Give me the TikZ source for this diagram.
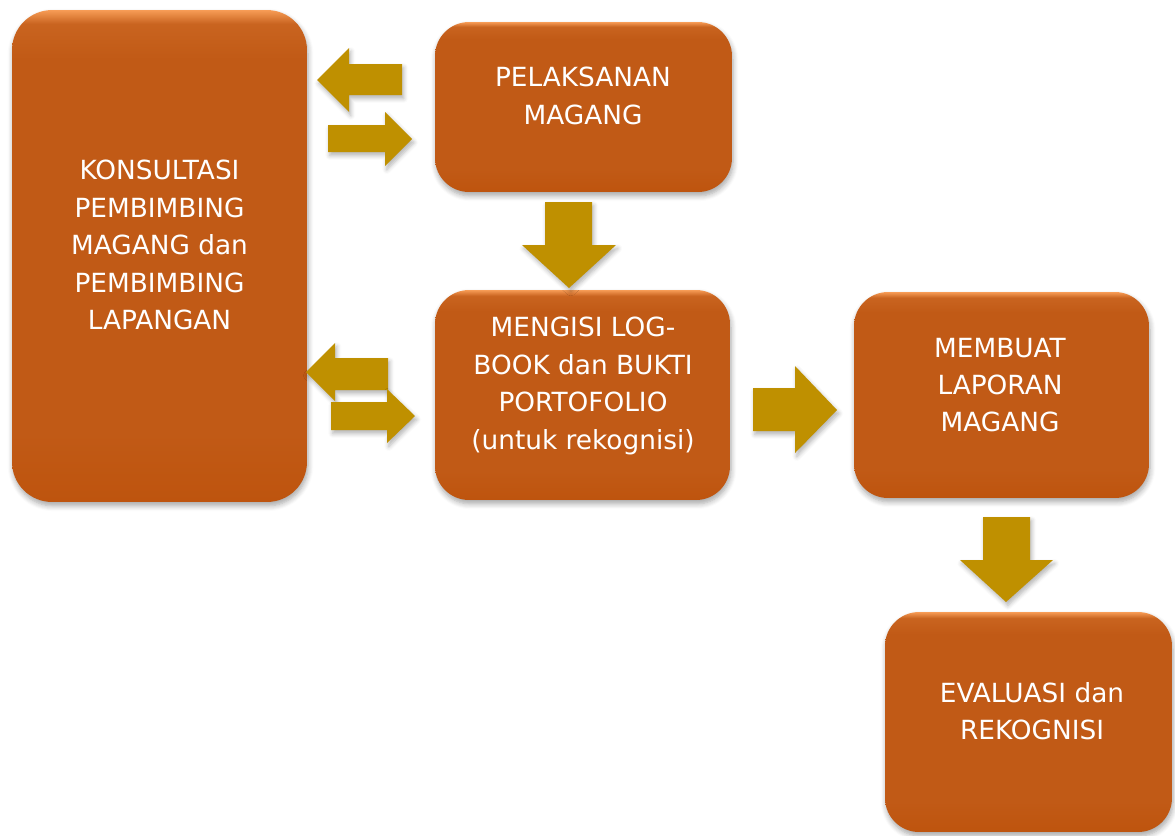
\documentclass[tikz,border=0pt]{standalone}
\usepackage{fontspec}
\setmainfont{DejaVu Sans}
\usetikzlibrary{shadows.blur}
\definecolor{boxbase}{RGB}{193,90,22}
\definecolor{boxdark}{RGB}{190,84,14}
\definecolor{boxlight}{RGB}{247,156,86}
\definecolor{arrowgold}{RGB}{191,144,0}
\pgfdeclareverticalshading{boxshade}{100bp}{color(0bp)=(boxdark); color(25bp)=(boxdark); color(32bp)=(boxbase); color(70bp)=(boxbase); color(73.6bp)=(boxbase!85!boxlight); color(75bp)=(boxlight); color(100bp)=(boxlight)}
\tikzset{
  box/.style={rounded corners=0.68cm, shading=boxshade, draw=none, inner sep=0pt,
    blur shadow={shadow xshift=0.6pt, shadow yshift=-2.2pt, shadow blur steps=6, shadow blur radius=3pt, shadow opacity=35}},
  txt/.style={text=white, align=center, font=\fontsize{15pt}{21.3pt}\selectfont, inner sep=0pt},
  blockarrow/.style={fill=arrowgold, draw=none,
    blur shadow={shadow xshift=1pt, shadow yshift=-2pt, shadow blur steps=5, shadow blur radius=2.5pt, shadow opacity=30}}
}
\begin{document}
\begin{tikzpicture}[x=0.02cm, y=-0.02cm]
\useasboundingbox (0,0) rectangle (1175,835);
% boxes
\node[box, minimum width=5.9cm, minimum height=9.84cm, rounded corners=0.8cm] (k) at (159.5,256) {};
\node[box, minimum width=5.94cm, minimum height=3.4cm] (p) at (583.5,107) {};
\node[box, minimum width=5.9cm, minimum height=4.2cm] (m) at (582.5,395) {};
\node[box, minimum width=5.9cm, minimum height=4.12cm] (l) at (1001.5,395) {};
\node[box, minimum width=5.74cm, minimum height=4.4cm] (e) at (1028.5,722) {};
% texts
\node[txt] (kt) at (159.5,245) {KONSULTASI\\PEMBIMBING\\MAGANG dan\\PEMBIMBING\\LAPANGAN};
\node[txt] (pt) at (583,96) {PELAKSANAN\\MAGANG};
\node[txt] (mt) at (583,386) {MENGISI LOG-\\BOOK dan BUKTI\\PORTOFOLIO\\(untuk rekognisi)};
\node[txt] (lt) at (1000,385) {MEMBUAT\\LAPORAN\\MAGANG};
\node[txt] (et) at (1032,711) {EVALUASI dan\\REKOGNISI};
% block arrows
\path[blockarrow] (317,80) -- (349,48) -- (349,64) -- (402,64) -- (402,95) -- (349,95) -- (349,112) -- cycle;
\path[blockarrow] (328,125) -- (385,125) -- (385,112) -- (412,139) -- (385,166) -- (385,152) -- (328,152) -- cycle;
\path[blockarrow] (306,372) -- (335,343) -- (335,358) -- (388,358) -- (388,390) -- (335,390) -- (335,401) -- cycle;
\path[blockarrow] (331,402) -- (387,402) -- (387,389) -- (415,416) -- (387,443) -- (387,430) -- (331,430) -- cycle;
\path[blockarrow] (753,388) -- (795,388) -- (795,366) -- (837,410) -- (795,453) -- (795,431) -- (753,431) -- cycle;
\path[blockarrow] (545,202) -- (592,202) -- (592,245) -- (616,245) -- (569,288) -- (522,245) -- (545,245) -- cycle;
\path[blockarrow] (983,517) -- (1030,517) -- (1030,560) -- (1053,560) -- (1006,602) -- (960,560) -- (983,560) -- cycle;
\end{tikzpicture}
\end{document}
